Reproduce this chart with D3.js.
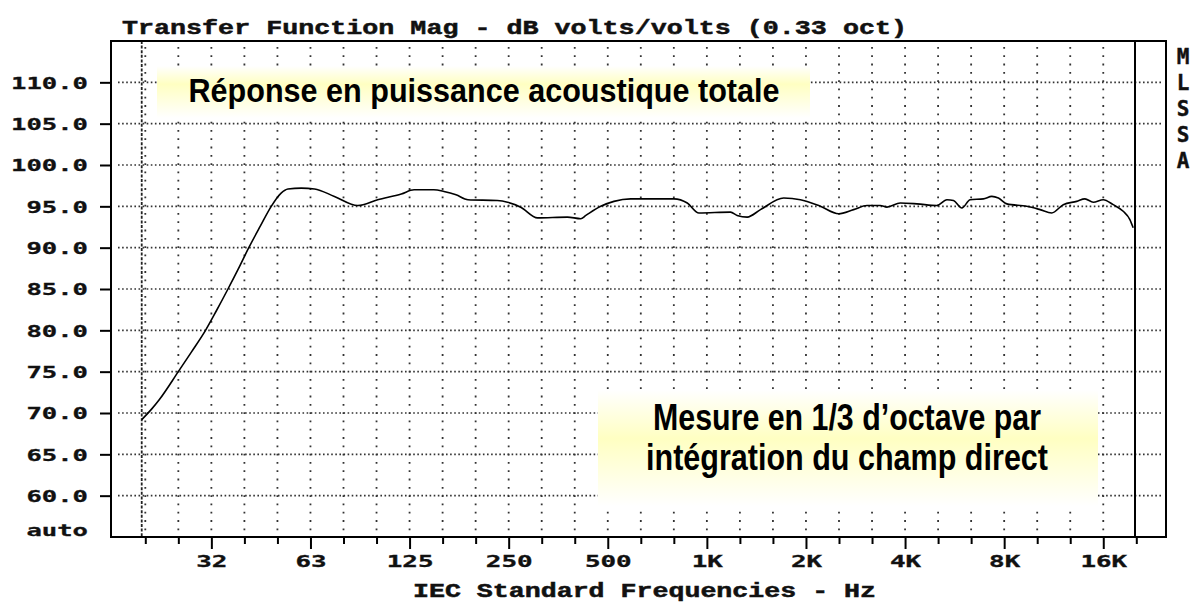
<!DOCTYPE html>
<html>
<head>
<meta charset="utf-8">
<script src="https://cdn.jsdelivr.net/npm/d3@7"></script>
<style>
  html, body { margin: 0; padding: 0; background: #fff; }
  svg { display: block; }
</style>
</head>
<body>
<svg id="chart" width="1194" height="603"></svg>
<script>
// ---------- DATA ----------
const titleText = "Transfer Function Mag - dB volts/volts (0.33 oct)";
const xTitleText = "IEC Standard Frequencies - Hz";
const sideText = ["M", "L", "S", "S", "A"];
const note1 = "Réponse en puissance acoustique totale";
const note2 = ["Mesure en 1/3 d’octave par", "intégration du champ direct"];

// measured curve (Hz, dB)
const freqs = [19.2, 20.6, 21.7, 24.8, 27.2, 30.0, 32.4, 35.1, 37.7, 40.6,
  44.0, 47.5, 50.9, 53.4, 58.6, 64.3, 73.9, 87.0, 100, 118,
  129, 148, 159, 173, 188, 231, 248, 272, 306, 377,
  414, 429, 476, 522, 587, 794, 872, 946, 1180, 1236,
  1326, 1455, 1712, 1924, 2212, 2514, 2791, 3065, 3363, 3525,
  3868, 4347, 4997, 5359, 5612, 5950, 6306, 6919, 7337, 7684,
  8150, 9369, 10281, 11156, 12097, 13284, 14075, 14916, 15997, 17153,
  18394, 19275, 19725];
const levels = [69.2, 70.5, 71.6, 75.0, 77.4, 80.0, 82.4, 85.0, 87.4, 90.0,
  92.6, 95.0, 96.6, 97.1, 97.2, 97.1, 96.2, 95.1, 95.8, 96.5,
  97.0, 97.0, 96.8, 96.4, 95.8, 95.7, 95.5, 94.9, 93.6, 93.7,
  93.5, 93.9, 95.0, 95.6, 95.9, 95.9, 95.4, 94.2, 94.3, 93.9,
  93.7, 94.6, 96.0, 95.8, 95.0, 94.1, 94.6, 95.1, 95.1, 94.9,
  95.4, 95.3, 95.1, 95.8, 95.7, 94.8, 95.8, 95.9, 96.2, 96.0,
  95.3, 95.0, 94.6, 94.2, 95.2, 95.6, 95.9, 95.5, 95.8, 95.2,
  94.4, 93.4, 92.4];

// axes
const yTicks = [110, 105, 100, 95, 90, 85, 80, 75, 70, 65, 60];
const yAutoLabel = "auto";
const thirdOctaveSteps = d3.range(-17, 14); // 1/3-octave bands around 1 kHz
const labelFreqs = [31.25, 62.5, 125, 250, 500, 1000, 2000, 4000, 8000, 16000];
const labelTexts = ["32", "63", "125", "250", "500", "1K", "2K", "4K", "8K", "16K"];
const startFreq = 19.2;

// ---------- LAYOUT ----------
const L = 111, T = 41, R = 1166, B = 537, innerR = 1135;
const f0 = 1000 * Math.pow(2, -17 / 3), f1 = 1000 * Math.pow(2, 13 / 3);
const x = d3.scaleLog().domain([f0, f1]).range([145.3, 1136.3]);
const y = d3.scaleLinear().domain([55, 115]).range([B, T]);
const bandFreqs = thirdOctaveSteps.map(n => 1000 * Math.pow(2, n / 3));

const svg = d3.select("#chart");
const defs = svg.append("defs");
function grad(id, peak) {
  const g = defs.append("linearGradient").attr("id", id)
    .attr("x1", 0).attr("y1", 0).attr("x2", 0).attr("y2", 1);
  g.append("stop").attr("offset", "0%").attr("stop-color", "#ffffff");
  g.append("stop").attr("offset", peak).attr("stop-color", "#ffffc2");
  g.append("stop").attr("offset", "100%").attr("stop-color", "#ffffff");
}
grad("g1", "35%");
grad("g2", "42%");

const monoFont = "'DejaVu Sans Mono', 'Liberation Mono', monospace";
const titleFont = "'Liberation Mono', 'DejaVu Sans Mono', monospace";
const narrowFont = "'Liberation Sans', Arial, sans-serif";

// ---------- GRID ----------
const grid = svg.append("g");
grid.selectAll("line.h").data(yTicks).join("line")
  .attr("x1", 118).attr("x2", R - 4)
  .attr("y1", d => y(d)).attr("y2", d => y(d))
  .attr("stroke", "#333").attr("stroke-width", 1.6)
  .attr("stroke-dasharray", "1.6,2.5");
grid.selectAll("line.v").data(bandFreqs.filter(f => f < 17000)).join("line")
  .attr("x1", d => x(d)).attr("x2", d => x(d))
  .attr("y1", T + 6).attr("y2", B)
  .attr("stroke", "#333").attr("stroke-width", 1.8)
  .attr("stroke-dasharray", "1.8,6.5");
// data-start marker
grid.append("line")
  .attr("x1", x(startFreq)).attr("x2", x(startFreq))
  .attr("y1", T).attr("y2", B)
  .attr("stroke", "#222").attr("stroke-width", 1.8)
  .attr("stroke-dasharray", "3,1.6");

// ---------- AXES ----------
const yAxis = svg.append("g").attr("transform", `translate(${L},0)`)
  .call(d3.axisLeft(y).tickValues(yTicks).tickSize(11).tickSizeOuter(0)
    .tickFormat(d3.format(".1f")));
yAxis.select(".domain").remove();
yAxis.selectAll(".tick line").attr("stroke", "#000").attr("stroke-width", 2);
yAxis.selectAll(".tick text")
  .attr("x", -23).attr("dy", "0.36em")
  .attr("font-family", monoFont).attr("font-weight", "bold")
  .attr("font-size", 16.5).attr("fill", "#111")
  .attr("stroke", "#111").attr("stroke-width", 0.3)
  .attr("text-anchor", "end")
  .attr("textLength", function () { return this.textContent.length * 15.4; })
  .attr("lengthAdjust", "spacingAndGlyphs");
svg.append("text").attr("x", 88).attr("y", y(55) - 1)
  .attr("font-family", monoFont).attr("font-weight", "bold")
  .attr("font-size", 16.5).attr("fill", "#111")
  .attr("stroke", "#111").attr("stroke-width", 0.3)
  .attr("text-anchor", "end")
  .attr("textLength", yAutoLabel.length * 15.4).attr("lengthAdjust", "spacingAndGlyphs")
  .text(yAutoLabel);

const labelMap = new Map(labelFreqs.map((f, i) => [f.toFixed(2), labelTexts[i]]));
const xAxis = svg.append("g").attr("transform", `translate(0,${B})`)
  .call(d3.axisBottom(x).tickValues(bandFreqs).tickSize(7).tickSizeOuter(0)
    .tickFormat(d => labelMap.get(d.toFixed(2)) || ""));
xAxis.select(".domain").remove();
xAxis.selectAll(".tick line").attr("stroke", "#000").attr("stroke-width", 2)
  .attr("y2", d => labelMap.has(d.toFixed(2)) ? 12 : 7);
xAxis.selectAll(".tick text")
  .attr("y", 29.5).attr("dy", 0)
  .attr("font-family", monoFont).attr("font-weight", "bold")
  .attr("font-size", 15.5).attr("fill", "#111")
  .attr("stroke", "#111").attr("stroke-width", 0.3)
  .attr("textLength", function () { return this.textContent.length * 15.6; })
  .attr("lengthAdjust", "spacingAndGlyphs");

// ---------- FRAME ----------
const frame = svg.append("g").attr("stroke", "#000").attr("stroke-width", 2).attr("fill", "none");
frame.append("rect").attr("x", L).attr("y", T).attr("width", R - L).attr("height", B - T);
frame.append("line").attr("x1", innerR).attr("x2", innerR).attr("y1", T).attr("y2", B);

// ---------- CURVE ----------
const pts = freqs.map((f, i) => [f, levels[i]]);
svg.append("path").datum(pts)
  .attr("fill", "none").attr("stroke", "#000").attr("stroke-width", 1.6)
  .attr("stroke-linejoin", "round")
  .attr("d", d3.line().x(d => x(d[0])).y(d => y(d[1])).curve(d3.curveMonotoneX));

// ---------- TEXTS ----------
svg.append("text").attr("x", 122).attr("y", 33.5)
  .attr("font-family", titleFont).attr("font-weight", "bold")
  .attr("font-size", 20.5).attr("fill", "#111")
  .attr("stroke", "#111").attr("stroke-width", 0.5)
  .attr("textLength", 785).attr("lengthAdjust", "spacingAndGlyphs")
  .text(titleText);

svg.append("text").attr("x", 413).attr("y", 597)
  .attr("font-family", titleFont).attr("font-weight", "bold")
  .attr("font-size", 19.5).attr("fill", "#111")
  .attr("stroke", "#111").attr("stroke-width", 0.5)
  .attr("textLength", 463).attr("lengthAdjust", "spacingAndGlyphs")
  .text(xTitleText);

svg.append("g").selectAll("text").data(sideText).join("text")
  .attr("x", 1183).attr("y", (d, i) => 64 + i * 26)
  .attr("text-anchor", "middle")
  .attr("font-family", monoFont).attr("font-weight", "bold")
  .attr("font-size", 21).attr("fill", "#111")
  .attr("stroke", "#111").attr("stroke-width", 0.4)
  .text(d => d);

// annotation boxes
svg.append("rect").attr("x", 157).attr("y", 66).attr("width", 653).attr("height", 52)
  .attr("fill", "url(#g1)");
svg.append("text").attr("x", 484).attr("y", 101.5).attr("text-anchor", "middle")
  .attr("font-family", narrowFont).attr("font-weight", "bold")
  .attr("font-size", 33).attr("fill", "#000")
  .attr("textLength", 591).attr("lengthAdjust", "spacingAndGlyphs")
  .text(note1);

svg.append("rect").attr("x", 598).attr("y", 390).attr("width", 500).attr("height", 116)
  .attr("fill", "url(#g2)");
svg.append("g").selectAll("text").data(note2).join("text")
  .attr("x", 847).attr("y", (d, i) => 430 + i * 40).attr("text-anchor", "middle")
  .attr("font-family", narrowFont).attr("font-weight", "bold")
  .attr("font-size", 36).attr("fill", "#000")
  .attr("textLength", (d, i) => i === 0 ? 388 : 402).attr("lengthAdjust", "spacingAndGlyphs")
  .text(d => d);
</script>
</body>
</html>
